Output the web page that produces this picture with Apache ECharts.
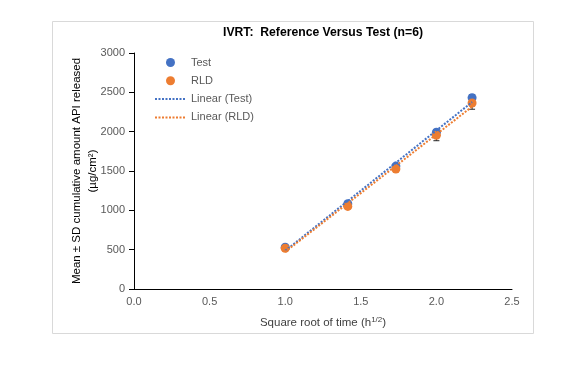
<!DOCTYPE html>
<html>
<head>
<meta charset="utf-8">
<script src="https://cdn.jsdelivr.net/npm/echarts@6/dist/echarts.min.js"></script>
<style>
html,body{margin:0;padding:0;background:#fff;}
#chart{width:578px;height:382px;}
</style>
</head>
<body>
<div id="chart"></div>
<script>
// Data
var sqrtTime = [1.0, 1.414, 1.732, 2.0, 2.236];
var testMean = [530, 1085, 1562, 1992, 2432];
var testSD   = [22, 25, 30, 30, 38];
var rldMean  = [518, 1050, 1525, 1955, 2365];
var rldSD    = [22, 25, 30, 70, 80];
var xTicks = [0, 0.5, 1.0, 1.5, 2.0, 2.5];
var yTicks = [0, 500, 1000, 1500, 2000, 2500, 3000];
var titleText = 'IVRT:  Reference Versus Test (n=6)';
var seriesNames = ['Test', 'RLD', 'Linear (Test)', 'Linear (RLD)'];

function fit(xs, ys) {
  var n = xs.length, sx = 0, sy = 0, sxx = 0, sxy = 0;
  for (var i = 0; i < n; i++) { sx += xs[i]; sy += ys[i]; sxx += xs[i]*xs[i]; sxy += xs[i]*ys[i]; }
  var b = (n*sxy - sx*sy) / (n*sxx - sx*sx);
  var a = (sy - b*sx) / n;
  var x0 = Math.min.apply(null, xs), x1 = Math.max.apply(null, xs);
  return [[x0, a + b*x0], [x1, a + b*x1]];
}
function pts(xs, ys) { return xs.map(function (x, i) { return [x, ys[i]]; }); }
function errData(xs, m, s) { return xs.map(function (x, i) { return [x, m[i] - s[i], m[i] + s[i]]; }); }

function errRender(params, api) {
  var x = api.value(0);
  var lo = api.coord([x, api.value(1)]);
  var hi = api.coord([x, api.value(2)]);
  var w = 3;
  var st = { stroke: '#262626', lineWidth: 1 };
  return {
    type: 'group',
    children: [
      { type: 'line', shape: { x1: lo[0], y1: lo[1], x2: hi[0], y2: hi[1] }, style: st },
      { type: 'line', shape: { x1: lo[0]-w, y1: lo[1], x2: lo[0]+w, y2: lo[1] }, style: st },
      { type: 'line', shape: { x1: hi[0]-w, y1: hi[1], x2: hi[0]+w, y2: hi[1] }, style: st }
    ]
  };
}

var blue = '#4472C4', orange = '#ED7D31';
var chart = echarts.init(document.getElementById('chart'));
var font = "'Liberation Sans', Arial, sans-serif";
var hiddenSym = { color: 'rgba(0,0,0,0)', opacity: 0, borderWidth: 0 };
chart.setOption({
  animation: false,
  backgroundColor: '#fff',
  graphic: [{
    type: 'rect', shape: { x: 52.5, y: 21.5, width: 481, height: 312 },
    style: { fill: 'none', stroke: '#d9d9d9', lineWidth: 1 }, z: -10
  }],
  title: {
    text: titleText, left: 318, top: 22, textAlign: 'center',
    textStyle: { fontFamily: font, fontSize: 12.2, fontWeight: 'bold', color: '#000' }
  },
  legend: {
    orient: 'vertical', left: 149, top: 52,
    itemWidth: 31, itemHeight: 9, itemGap: 7.3,
    textStyle: { fontFamily: font, fontSize: 11, color: '#595959' },
    data: [
      { name: seriesNames[0], icon: 'circle' },
      { name: seriesNames[1], icon: 'circle' },
      { name: seriesNames[2], itemStyle: hiddenSym },
      { name: seriesNames[3], itemStyle: hiddenSym }
    ]
  },
  grid: { left: 134, right: 66, top: 53, bottom: 93, containLabel: false },
  xAxis: {
    type: 'value', min: 0, max: 2.5, interval: 0.5,
    name: 'Square root of time (h{sup|1/2})', nameLocation: 'middle', nameGap: 27,
    nameTextStyle: {
      fontFamily: font, fontSize: 11.5, color: '#404040',
      rich: { sup: { fontSize: 8, verticalAlign: 'top', padding: [0, 0, 6, 0], color: '#404040', fontFamily: font } }
    },
    axisLine: { lineStyle: { color: '#000', width: 1 } },
    axisTick: { show: false },
    splitLine: { show: false },
    axisLabel: { fontFamily: font, fontSize: 11, color: '#595959', margin: 7,
      formatter: function (v) { return v.toFixed(1); } }
  },
  yAxis: {
    type: 'value', min: 0, max: 3000, interval: 500,
    name: 'Mean ± SD cumulative amount API released\n(µg/cm²)',
    nameLocation: 'middle', nameGap: 33, nameRotate: 90, nameMoveOverlap: false,
    nameTextStyle: { fontFamily: font, fontSize: 11.5, color: '#000', lineHeight: 16 },
    axisLine: { show: true, lineStyle: { color: '#000', width: 1 } },
    axisTick: { show: true, inside: false, length: 5, lineStyle: { color: '#000' } },
    splitLine: { show: false },
    axisLabel: { fontFamily: font, fontSize: 11, color: '#595959', margin: 9,
      formatter: function (v) { return String(v); } }
  },
  series: [
    { type: 'custom', name: 'errTest', renderItem: errRender, data: errData(sqrtTime, testMean, testSD), z: 1, encode: { x: 0, y: [1, 2] } },
    { type: 'custom', name: 'errRLD', renderItem: errRender, data: errData(sqrtTime, rldMean, rldSD), z: 1, encode: { x: 0, y: [1, 2] } },
    { type: 'scatter', name: seriesNames[0], data: pts(sqrtTime, testMean), symbolSize: 9, itemStyle: { color: blue, opacity: 1 }, z: 2 },
    { type: 'scatter', name: seriesNames[1], data: pts(sqrtTime, rldMean), symbolSize: 9, itemStyle: { color: orange, opacity: 1 }, z: 3 },
    { type: 'line', name: seriesNames[2], data: fit(sqrtTime, testMean), symbol: 'none', color: blue,
      lineStyle: { color: blue, width: 2, type: [2, 1.5] }, z: 4 },
    { type: 'line', name: seriesNames[3], data: fit(sqrtTime, rldMean), symbol: 'none', color: orange,
      lineStyle: { color: orange, width: 2, type: [2, 1.5] }, z: 4 }
  ]
});
</script>
</body>
</html>
